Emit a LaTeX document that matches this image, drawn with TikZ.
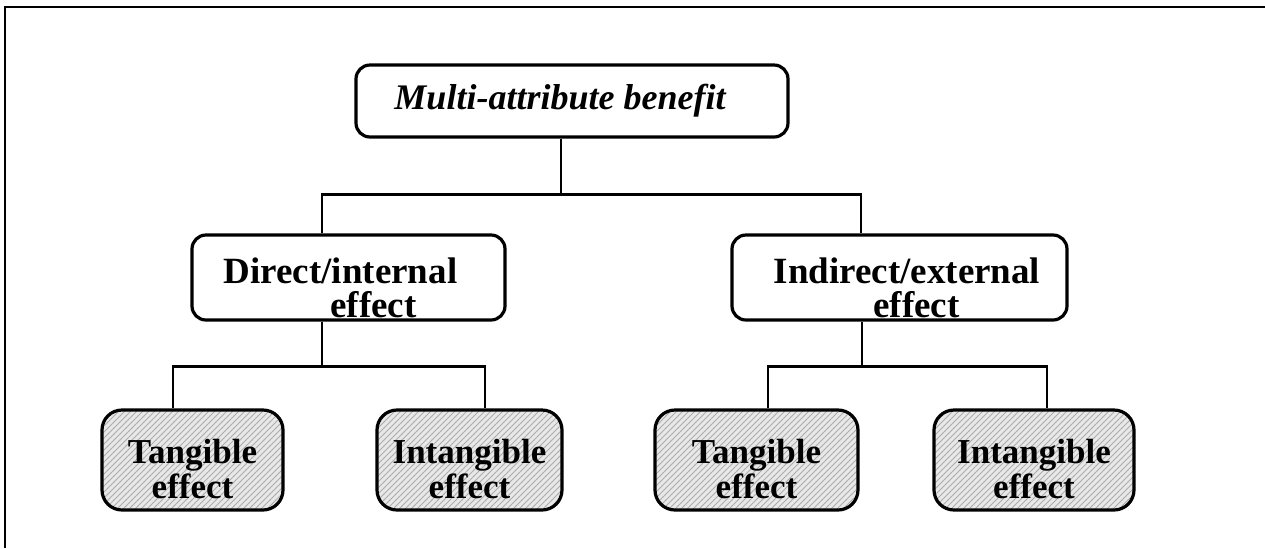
\documentclass[tikz,border=0pt]{standalone}
\usepackage{fontspec}
\setmainfont{Liberation Serif}
\usetikzlibrary{positioning,patterns}

\begin{document}
\begin{tikzpicture}[on grid, line width=1.4pt,
   topbox/.style={draw, rounded corners=7pt, line width=1.6pt, minimum width=216pt, minimum height=36pt, inner sep=0pt, font=\fontsize{18}{20}\selectfont\bfseries\itshape},
   midbox/.style={draw, rounded corners=7pt, line width=1.6pt, minimum height=42.5pt, align=center, inner sep=0pt, text height=41pt, text depth=1.5pt, font=\fontsize{18.5}{17}\selectfont\bfseries},
   leafbox/.style={draw, rounded corners=10pt, line width=1.6pt, minimum height=50pt, align=center, inner sep=0pt, text height=44pt, text depth=6pt, preaction={fill=gray!18}, pattern=north east lines, pattern color=gray!65, font=\fontsize{17.5}{15}\selectfont\bfseries}]
   \useasboundingbox (0,0) rectangle (632.5pt,-274pt);
   % frame, top and left side only
   \draw[line width=0.9pt] (632.5pt,-3.5pt) -- (2.5pt,-3.5pt) -- (2.5pt,-274pt);

   \node[topbox] (M) at (286pt,-50.5pt) {Multi-attribute benefit\hspace*{12pt}};
   \node[midbox, minimum width=156.5pt] (D) [below left=88.25pt and 111.75pt of M] {Direct/internal\hspace*{8pt}\\\hspace*{25pt}effect};
   \node[midbox, minimum width=167.5pt] (N) [below right=88.25pt and 163.75pt of M] {\hspace*{7.5pt}Indirect/external\\\hspace*{17pt}effect};
   \node[leafbox, minimum width=90.5pt] (T1) [below left=91.25pt and 78pt of D] {Tangible\\effect};
   \node[leafbox, minimum width=92.5pt] (I1) [below right=91.25pt and 60.5pt of D] {Intangible\\effect};
   \node[leafbox, minimum width=101.5pt] (T2) [below left=91.25pt and 71.5pt of N] {Tangible\\effect};
   \node[leafbox, minimum width=100pt] (I2) [below right=91.25pt and 67.25pt of N] {Intangible\\effect};

   \coordinate (b0) at ([xshift=-5.5pt,yshift=-28pt]M.south);
   \coordinate (b1) at ([xshift=-13.25pt,yshift=-22.5pt]D.south);
   \coordinate (b2) at ([xshift=-18.75pt,yshift=-22.5pt]N.south);
   \draw ([xshift=-5.5pt]M.south) -- (b0);
   \draw ([xshift=-13.25pt]D.north) |- (b0) -| ([xshift=-19.25pt]N.north);
   \draw ([xshift=-13.25pt]D.south) -- (b1);
   \draw ([xshift=-9.75pt]T1.north) |- (b1) -| ([xshift=7.75pt]I1.north);
   \draw ([xshift=-18.75pt]N.south) -- (b2);
   \draw ([xshift=5.75pt]T2.north) |- (b2) -| ([xshift=6.5pt]I2.north);
\end{tikzpicture}
\end{document}
